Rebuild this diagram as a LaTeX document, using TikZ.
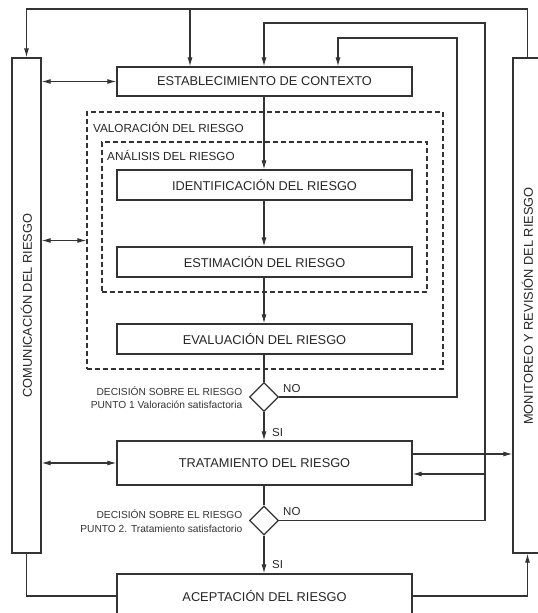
\documentclass[tikz,border=0pt]{standalone}
\usepackage{fontspec}
\setmainfont{Liberation Sans}
\usetikzlibrary{arrows.meta,shapes.geometric}
\tikzset{
  ln/.style={line width=1.1pt, draw=black!80},
  arr/.style={ln, -{Latex[length=9pt,width=5pt]}},
  darr/.style={ln, {Latex[length=9pt,width=5pt]}-{Latex[length=9pt,width=5pt]}},
  box/.style={draw=black!80, line width=1.3pt, rectangle, minimum width=295pt, inner sep=0pt, text=black!85, font=\fontsize{12.8}{15}\selectfont},
  sidebox/.style={draw=black!80, line width=1.3pt, rectangle, minimum width=29pt, minimum height=495pt, inner sep=0pt},
  dbox/.style={draw=black!80, line width=1.1pt, dash pattern=on 5pt off 3pt, rectangle, inner sep=0pt},
  dec/.style={draw=black!80, line width=1.3pt, diamond, aspect=1, minimum width=29pt, minimum height=29pt, inner sep=0pt},
  lbl/.style={text=black!85, font=\fontsize{11.7}{14}\selectfont, inner sep=0pt},
  yn/.style={text=black!85, font=\fontsize{11.5}{14}\selectfont, inner sep=0pt},
  dtxt/.style={text=black!80, font=\fontsize{10.2}{13.5}\selectfont, align=right, inner sep=0pt},
  vtxt/.style={text=black!85, font=\fontsize{12.8}{15}\selectfont, rotate=90, inner sep=0pt}
}
\begin{document}
\begin{tikzpicture}[x=1pt,y=-1pt]
\useasboundingbox (0,0) rectangle (538,613);
% dashed groups
\node[dbox, minimum width=356pt, minimum height=257pt] (valor) at (265,240.5) {};
\node[dbox, minimum width=325pt, minimum height=150pt] (anal) at (264.5,217) {};
\node[lbl, anchor=west] (valtxt) at (93,127.5) {VALORACIÓN DEL RIESGO};
\node[lbl, anchor=west] (antxt) at (107,155) {ANÁLISIS DEL RIESGO};
% main boxes
\node[box, minimum height=29pt, fill=white] (est) at (264.5,81.5) {ESTABLECIMIENTO DE CONTEXTO};
\node[box, minimum height=30pt] (ident) at (264.5,185) {IDENTIFICACIÓN DEL RIESGO};
\node[box, minimum height=30pt] (estim) at (264.5,262) {ESTIMACIÓN DEL RIESGO};
\node[box, minimum height=30pt] (eval) at (264.5,339) {EVALUACIÓN DEL RIESGO};
\node[box, minimum height=44pt] (trat) at (264.5,463) {TRATAMIENTO DEL RIESGO};
\node[box, minimum height=44pt] (acep) at (264.5,596) {ACEPTACIÓN DEL RIESGO};
\node[dec] (d1) at (264,397) {};
\node[dec] (d2) at (264,520.5) {};
% side boxes
\node[sidebox] (com) at (26.5,305.5) {};
\node[vtxt] (comtxt) at (26.5,305.5) {COMUNICACIÓN DEL RIESGO};
\node[sidebox] (mon) at (527.5,305.5) {};
\node[vtxt] (montxt) at (527.5,306) {MONITOREO Y REVISIÓN DEL RIESGO};
% decision texts
\node[dtxt, anchor=east] (d1txt) at (242.5,397.5) {DECISIÓN SOBRE EL RIESGO\\PUNTO 1 Valoración satisfactoria};
\node[dtxt, anchor=east] (d2txt) at (242.5,521) {DECISIÓN SOBRE EL RIESGO\\PUNTO 2. Tratamiento satisfactorio};
\node[yn, anchor=west] (no1) at (283,389) {NO};
\node[yn, anchor=west] (si1) at (272,433) {SI};
\node[yn, anchor=west] (no2) at (283,511.5) {NO};
\node[yn, anchor=west] (si2) at (272,564.5) {SI};
% coordinates for loops
\coordinate (t1) at (26.5,9);
\coordinate (t2) at (527.5,9);
\coordinate (t3) at (190,9);
\coordinate (r2) at (485,23);
\coordinate (r1) at (457,38);
\coordinate (r1b) at (338,38);
\coordinate (b1) at (485,474);
% top loop
\draw[arr] (mon.north) -- (t2) -- (t1) -- (com.north);
\draw[arr] (t3) -- (t3 |- est.north);
% decision 2 NO loop
\draw[arr] (d2.east) -| (r2) -| (d2 |- est.north);
\draw[arr] (b1) -- (b1 -| trat.east);
% decision 1 NO loop
\draw[arr] (d1.east) -| (r1) -- (r1b) -- (r1b |- est.north);
% main chain
\draw[arr] (d1 |- est.south) -- (d1 |- ident.north);
\draw[arr] (d1 |- ident.south) -- (d1 |- estim.north);
\draw[arr] (d1 |- estim.south) -- (d1 |- eval.north);
\draw[ln] (d1 |- eval.south) -- (d1.north);
\draw[arr] (d1.south) -- (d1 |- trat.north);
\draw[ln] (d2 |- trat.south) -- (d2.north);
\draw[arr] (d2.south) -- (d2 |- acep.north);
% communication double arrows
\draw[darr] (com.east |- est.west) -- (est.west);
\draw[darr] (com.east |- valor.west) -- (valor.west);
\draw[darr] (com.east |- trat.west) -- (trat.west);
% treatment to monitoring
\coordinate (b2) at (412,454);
\draw[arr] (b2) -- (b2 -| mon.west);
% bottom
\draw[ln] (com.south) |- (acep.west);
\draw[arr] (acep.east) -| (mon.south);
\end{tikzpicture}
\end{document}
